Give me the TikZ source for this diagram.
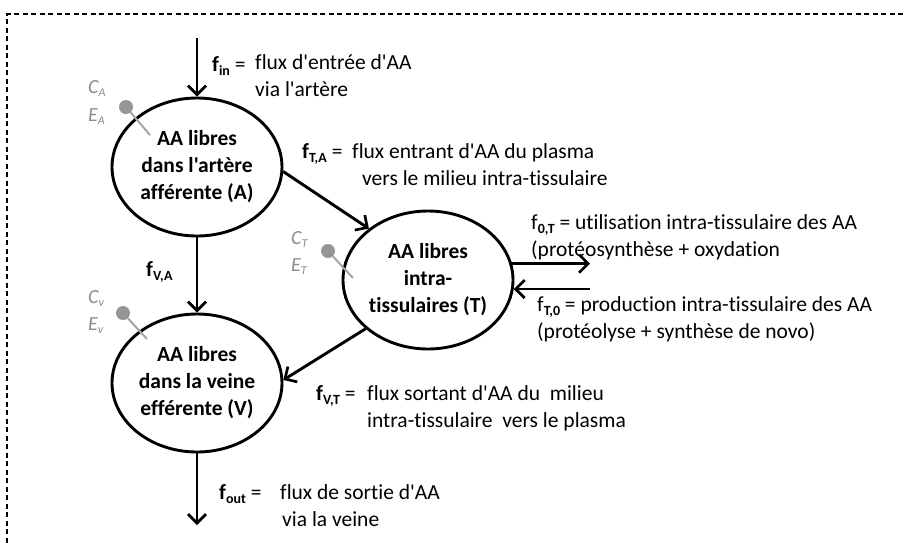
\documentclass[tikz,border=0pt]{standalone}
\usepackage{fontspec}
\setmainfont{Carlito}[Ligatures={TeXOff,NoCommon}]
\usetikzlibrary{shapes.geometric,arrows.meta}
\definecolor{glabc}{RGB}{140,140,140}
\definecolor{dotc}{RGB}{150,150,150}
\definecolor{stickc}{RGB}{165,165,165}
\newcommand\sbf[1]{\raisebox{-4pt}{\fontsize{14}{14}\selectfont\bfseries #1}}
\newcommand\gsub[1]{\raisebox{-3pt}{\fontsize{12}{12}\selectfont #1}}
\begin{document}
\begin{tikzpicture}[x=1pt,y=-1pt,
  comp/.style={ellipse,draw,line width=2.9pt,minimum width=170pt,minimum height=138pt,inner sep=0pt,align=center,font=\fontsize{21.5}{27}\selectfont\bfseries},
  flow/.style={line width=2.9pt,-{Straight Barb[length=9pt,width=18pt,line width=2.7pt]}},
  lab/.style={anchor=base west,inner sep=0pt,align=left,font=\fontsize{21.5}{26.5}\selectfont},
  glab/.style={anchor=west,inner sep=0pt,text=glabc,font=\fontsize{20}{20}\selectfont\itshape},
  dotn/.style={circle,fill=dotc,inner sep=0pt,minimum size=14pt},
  stick/.style={draw=stickc,line width=2pt},
]
\useasboundingbox (0,0) rectangle (903,544);
% frame
\draw[line width=1.5pt,dash pattern=on 5pt off 3.5pt] (903,14) -- (7,14) -- (7,544);

% compartments
\node[comp] (A) at (197,167) {AA libres\\dans l'artère\\afférente (A)};
\node[comp] (T) at (428,280) {AA libres\\intra-\\tissulaires (T)};
\node[comp] (V) at (197,383) {AA libres\\dans la veine\\efférente (V)};

% free ends
\coordinate (in) at (197,38);
\coordinate (out) at (197,525);
\coordinate (xo) at (590,0);

% flows
\draw[flow] (in) -- (A.north);
\draw[flow] (A.-3) -- (T.139);
\draw[flow] (A.south) -- (V.north);
\draw[flow] (T.218) -- (V.2);
\draw[flow] (V.south) -- (out);
\draw[flow] (T.11) -- (T.11 -| xo);
\draw[flow] (T.-6 -| xo) -- (T.-6);

% flow labels (base = baseline of last line)
\node[lab] (lin) at (212,71) {\textbf{f}\sbf{in} =};
\node[lab] (din) at (255,96) {flux d'entrée d'AA\\via l'artère};
\node[lab] (lta) at (302,158) {\textbf{f}\sbf{T,A} =};
\node[lab] (dta) at (352,185) {flux entrant d'AA du plasma\\\hspace*{10pt}vers le milieu intra-tissulaire};
\node[lab] (lva) at (146,276) {\textbf{f}\sbf{V,A}};
\node[lab] (lvt) at (316,400) {\textbf{f}\sbf{V,T} =};
\node[lab] (dvt) at (367,427) {flux sortant d'AA du\ \ milieu\\intra-tissulaire\ \ vers le plasma};
\node[lab] (lout) at (219,499) {\textbf{f}\sbf{out} =};
\node[lab] (dout) at (280,526) {flux de sortie d'AA\\\hspace*{2pt}via la veine};
\node[lab] (lot) at (531,256) {f\sbf{0,T} = utilisation intra-tissulaire des AA\\(protéosynthèse + oxydation};
\node[lab] (lto) at (537,338) {f\sbf{T,0} = production intra-tissulaire des AA\\(protéolyse + synthèse de novo)};

% concentration / enrichment markers
\node[glab] (ca) at (88,89) {C\gsub{A}};
\node[glab] (ea) at (88,117) {E\gsub{A}};
\node[dotn] (pa) at (126,107) {};
\coordinate (sa) at (150,135);
\draw[stick] (pa) -- (sa);

\node[glab] (ct) at (291,240) {C\gsub{T}};
\node[glab] (et) at (291,267) {E\gsub{T}};
\node[dotn] (pt) at (328,251) {};
\coordinate (st) at (353,278);
\draw[stick] (pt) -- (st);

\node[glab] (cv) at (88,299) {C\gsub{v}};
\node[glab] (ev) at (88,326) {E\gsub{v}};
\node[dotn] (pv) at (123,313) {};
\coordinate (sv) at (147,339);
\draw[stick] (pv) -- (sv);
\end{tikzpicture}
\end{document}
